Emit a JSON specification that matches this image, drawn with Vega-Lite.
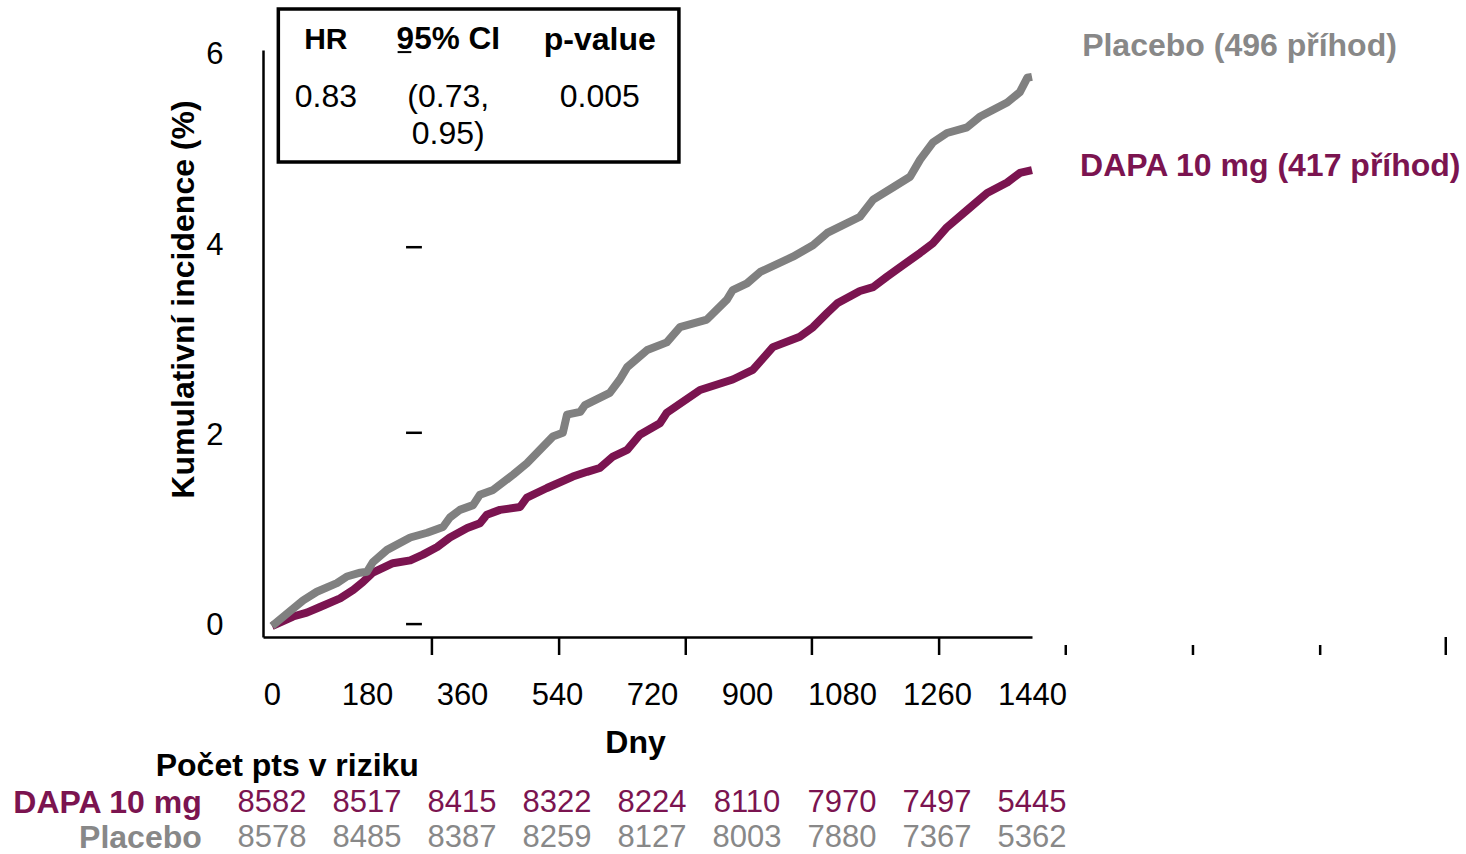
{
  "$schema": "https://vega.github.io/schema/vega-lite/v6.json",
  "width": 769,
  "height": 587,
  "autosize": {"type": "none"},
  "padding": {"left": 263, "top": 50, "right": 434, "bottom": 217},
  "background": "white",
  "config": {"view": {"stroke": null}, "font": "Liberation Sans", "axis": {"grid": false}},
  "datasets": {
    "curves": [
      {"arm": "Placebo", "day": 0, "pct": 0},
      {"arm": "Placebo", "day": 59, "pct": 0.27},
      {"arm": "Placebo", "day": 85, "pct": 0.36},
      {"arm": "Placebo", "day": 123, "pct": 0.45},
      {"arm": "Placebo", "day": 142, "pct": 0.52},
      {"arm": "Placebo", "day": 167, "pct": 0.56},
      {"arm": "Placebo", "day": 180, "pct": 0.57},
      {"arm": "Placebo", "day": 191, "pct": 0.67},
      {"arm": "Placebo", "day": 218, "pct": 0.8},
      {"arm": "Placebo", "day": 262, "pct": 0.93},
      {"arm": "Placebo", "day": 294, "pct": 0.98},
      {"arm": "Placebo", "day": 324, "pct": 1.04},
      {"arm": "Placebo", "day": 337, "pct": 1.14},
      {"arm": "Placebo", "day": 356, "pct": 1.22},
      {"arm": "Placebo", "day": 381, "pct": 1.27},
      {"arm": "Placebo", "day": 394, "pct": 1.38},
      {"arm": "Placebo", "day": 419, "pct": 1.43},
      {"arm": "Placebo", "day": 457, "pct": 1.59},
      {"arm": "Placebo", "day": 483, "pct": 1.71},
      {"arm": "Placebo", "day": 532, "pct": 1.99},
      {"arm": "Placebo", "day": 551, "pct": 2.03},
      {"arm": "Placebo", "day": 559, "pct": 2.22},
      {"arm": "Placebo", "day": 584, "pct": 2.25},
      {"arm": "Placebo", "day": 593, "pct": 2.32},
      {"arm": "Placebo", "day": 640, "pct": 2.45},
      {"arm": "Placebo", "day": 659, "pct": 2.59},
      {"arm": "Placebo", "day": 673, "pct": 2.72},
      {"arm": "Placebo", "day": 711, "pct": 2.9},
      {"arm": "Placebo", "day": 748, "pct": 2.98},
      {"arm": "Placebo", "day": 773, "pct": 3.14},
      {"arm": "Placebo", "day": 824, "pct": 3.22},
      {"arm": "Placebo", "day": 862, "pct": 3.43},
      {"arm": "Placebo", "day": 873, "pct": 3.53},
      {"arm": "Placebo", "day": 900, "pct": 3.6},
      {"arm": "Placebo", "day": 925, "pct": 3.72},
      {"arm": "Placebo", "day": 987, "pct": 3.88},
      {"arm": "Placebo", "day": 1025, "pct": 4.0},
      {"arm": "Placebo", "day": 1052, "pct": 4.13},
      {"arm": "Placebo", "day": 1114, "pct": 4.3},
      {"arm": "Placebo", "day": 1139, "pct": 4.48},
      {"arm": "Placebo", "day": 1177, "pct": 4.61},
      {"arm": "Placebo", "day": 1209, "pct": 4.72},
      {"arm": "Placebo", "day": 1228, "pct": 4.9},
      {"arm": "Placebo", "day": 1252, "pct": 5.08},
      {"arm": "Placebo", "day": 1279, "pct": 5.18},
      {"arm": "Placebo", "day": 1317, "pct": 5.24},
      {"arm": "Placebo", "day": 1341, "pct": 5.35},
      {"arm": "Placebo", "day": 1393, "pct": 5.5},
      {"arm": "Placebo", "day": 1417, "pct": 5.61},
      {"arm": "Placebo", "day": 1431, "pct": 5.76},
      {"arm": "Placebo", "day": 1440, "pct": 5.77},
      {"arm": "DAPA 10 mg", "day": 0, "pct": 0},
      {"arm": "DAPA 10 mg", "day": 40, "pct": 0.1},
      {"arm": "DAPA 10 mg", "day": 66, "pct": 0.14},
      {"arm": "DAPA 10 mg", "day": 91, "pct": 0.2},
      {"arm": "DAPA 10 mg", "day": 129, "pct": 0.29},
      {"arm": "DAPA 10 mg", "day": 154, "pct": 0.38},
      {"arm": "DAPA 10 mg", "day": 172, "pct": 0.46},
      {"arm": "DAPA 10 mg", "day": 191, "pct": 0.56},
      {"arm": "DAPA 10 mg", "day": 229, "pct": 0.66},
      {"arm": "DAPA 10 mg", "day": 262, "pct": 0.69},
      {"arm": "DAPA 10 mg", "day": 286, "pct": 0.75},
      {"arm": "DAPA 10 mg", "day": 313, "pct": 0.83},
      {"arm": "DAPA 10 mg", "day": 337, "pct": 0.93},
      {"arm": "DAPA 10 mg", "day": 370, "pct": 1.03},
      {"arm": "DAPA 10 mg", "day": 394, "pct": 1.08},
      {"arm": "DAPA 10 mg", "day": 407, "pct": 1.17},
      {"arm": "DAPA 10 mg", "day": 432, "pct": 1.22},
      {"arm": "DAPA 10 mg", "day": 470, "pct": 1.25},
      {"arm": "DAPA 10 mg", "day": 483, "pct": 1.35},
      {"arm": "DAPA 10 mg", "day": 521, "pct": 1.45},
      {"arm": "DAPA 10 mg", "day": 570, "pct": 1.57},
      {"arm": "DAPA 10 mg", "day": 597, "pct": 1.62},
      {"arm": "DAPA 10 mg", "day": 621, "pct": 1.66},
      {"arm": "DAPA 10 mg", "day": 646, "pct": 1.78},
      {"arm": "DAPA 10 mg", "day": 673, "pct": 1.85},
      {"arm": "DAPA 10 mg", "day": 697, "pct": 2.01},
      {"arm": "DAPA 10 mg", "day": 735, "pct": 2.13},
      {"arm": "DAPA 10 mg", "day": 748, "pct": 2.24},
      {"arm": "DAPA 10 mg", "day": 811, "pct": 2.48},
      {"arm": "DAPA 10 mg", "day": 873, "pct": 2.59},
      {"arm": "DAPA 10 mg", "day": 911, "pct": 2.69},
      {"arm": "DAPA 10 mg", "day": 949, "pct": 2.93},
      {"arm": "DAPA 10 mg", "day": 1000, "pct": 3.04},
      {"arm": "DAPA 10 mg", "day": 1025, "pct": 3.14},
      {"arm": "DAPA 10 mg", "day": 1052, "pct": 3.29},
      {"arm": "DAPA 10 mg", "day": 1071, "pct": 3.39},
      {"arm": "DAPA 10 mg", "day": 1114, "pct": 3.52},
      {"arm": "DAPA 10 mg", "day": 1139, "pct": 3.56},
      {"arm": "DAPA 10 mg", "day": 1165, "pct": 3.67},
      {"arm": "DAPA 10 mg", "day": 1190, "pct": 3.77},
      {"arm": "DAPA 10 mg", "day": 1228, "pct": 3.92},
      {"arm": "DAPA 10 mg", "day": 1252, "pct": 4.02},
      {"arm": "DAPA 10 mg", "day": 1279, "pct": 4.19},
      {"arm": "DAPA 10 mg", "day": 1317, "pct": 4.37},
      {"arm": "DAPA 10 mg", "day": 1355, "pct": 4.55},
      {"arm": "DAPA 10 mg", "day": 1393, "pct": 4.66},
      {"arm": "DAPA 10 mg", "day": 1417, "pct": 4.76},
      {"arm": "DAPA 10 mg", "day": 1440, "pct": 4.79}
    ],
    "risk": [
      {"arm": "DAPA 10 mg", "day": 0, "n": 8582},
      {"arm": "DAPA 10 mg", "day": 180, "n": 8517},
      {"arm": "DAPA 10 mg", "day": 360, "n": 8415},
      {"arm": "DAPA 10 mg", "day": 540, "n": 8322},
      {"arm": "DAPA 10 mg", "day": 720, "n": 8224},
      {"arm": "DAPA 10 mg", "day": 900, "n": 8110},
      {"arm": "DAPA 10 mg", "day": 1080, "n": 7970},
      {"arm": "DAPA 10 mg", "day": 1260, "n": 7497},
      {"arm": "DAPA 10 mg", "day": 1440, "n": 5445},
      {"arm": "Placebo", "day": 0, "n": 8578},
      {"arm": "Placebo", "day": 180, "n": 8485},
      {"arm": "Placebo", "day": 360, "n": 8387},
      {"arm": "Placebo", "day": 540, "n": 8259},
      {"arm": "Placebo", "day": 720, "n": 8127},
      {"arm": "Placebo", "day": 900, "n": 8003},
      {"arm": "Placebo", "day": 1080, "n": 7880},
      {"arm": "Placebo", "day": 1260, "n": 7367},
      {"arm": "Placebo", "day": 1440, "n": 5362}
    ],
    "xticksLong": [{"day": 303}, {"day": 544}, {"day": 784}, {"day": 1023}, {"day": 1264}, {"day": 2224}],
    "xticksShort": [{"day": 1504}, {"day": 1745}, {"day": 1986}],
    "yticks": [{"pct": 0.02}, {"pct": 2.03}, {"pct": 3.98}],
    "one": [{}]
  },
  "layer": [
    {
      "data": {"name": "curves"},
      "transform": [{"filter": "datum.arm === 'DAPA 10 mg'"}],
      "mark": {"type": "line", "color": "#7b1450", "strokeWidth": 8, "strokeJoin": "round"},
      "encoding": {
        "x": {"field": "day", "type": "quantitative", "scale": {"domain": [-17.05, 1440], "nice": false, "zero": false},
          "axis": {"values": [0, 180, 360, 540, 720, 900, 1080, 1260, 1440], "format": "d", "ticks": false, "domain": true, "domainColor": "black", "domainWidth": 2.5,
            "labelFontSize": 31, "labelColor": "black", "labelPadding": 43, "labelFlush": false, "labelOverlap": false,
            "title": "Dny", "titleFontSize": 32, "titleFontWeight": "bold", "titleColor": "black", "titleX": 372, "titleY": 105, "titleBaseline": "middle", "titleAlign": "center"}},
        "y": {"field": "pct", "type": "quantitative", "scale": {"domain": [-0.1156, 6.052], "nice": false, "zero": false},
          "axis": {"values": [0, 2, 4, 6], "format": "d", "ticks": false, "domain": true, "domainColor": "black", "domainWidth": 2.5,
            "labelFontSize": 31, "labelColor": "black", "labelPadding": 40, "labelFlush": false, "labelOverlap": false,
            "title": "Kumulativní incidence (%)", "titleFontSize": 32, "titleFontWeight": "bold", "titleColor": "black", "titleAngle": -90, "titleX": -80, "titleY": 249, "titleBaseline": "middle", "titleAlign": "center"}}
      }
    },
    {
      "data": {"name": "curves"},
      "transform": [{"filter": "datum.arm === 'Placebo'"}],
      "mark": {"type": "line", "color": "#808080", "strokeWidth": 8, "strokeJoin": "round"},
      "encoding": {
        "x": {"field": "day", "type": "quantitative"},
        "y": {"field": "pct", "type": "quantitative"}
      }
    },
    {
      "data": {"name": "xticksLong"},
      "mark": {"type": "rule", "color": "black", "strokeWidth": 2.5},
      "encoding": {
        "x": {"field": "day", "type": "quantitative"},
        "y": {"datum": -0.1156, "type": "quantitative"},
        "y2": {"datum": -0.3047}
      }
    },
    {
      "data": {"name": "xticksShort"},
      "mark": {"type": "rule", "color": "black", "strokeWidth": 2.5},
      "encoding": {
        "x": {"field": "day", "type": "quantitative"},
        "y": {"datum": -0.1996, "type": "quantitative"},
        "y2": {"datum": -0.3047}
      }
    },
    {
      "data": {"name": "yticks"},
      "mark": {"type": "rule", "color": "black", "strokeWidth": 2.5},
      "encoding": {
        "x": {"datum": 254, "type": "quantitative"},
        "x2": {"datum": 284},
        "y": {"field": "pct", "type": "quantitative"}
      }
    },
    {
      "data": {"name": "risk"},
      "transform": [{"filter": "datum.arm === 'DAPA 10 mg'"}],
      "mark": {"type": "text", "fontSize": 31, "color": "#7b1450", "align": "center", "baseline": "middle"},
      "encoding": {
        "x": {"field": "day", "type": "quantitative"},
        "y": {"datum": -1.86, "type": "quantitative"},
        "text": {"field": "n", "type": "nominal"}
      }
    },
    {
      "data": {"name": "risk"},
      "transform": [{"filter": "datum.arm === 'Placebo'"}],
      "mark": {"type": "text", "fontSize": 31, "color": "#888888", "align": "center", "baseline": "middle"},
      "encoding": {
        "x": {"field": "day", "type": "quantitative"},
        "y": {"datum": -2.228, "type": "quantitative"},
        "text": {"field": "n", "type": "nominal"}
      }
    },
    {
      "data": {"name": "one"},
      "mark": {"type": "text", "text": "DAPA 10 mg", "fontSize": 32, "fontWeight": "bold", "color": "#7b1450", "align": "right", "baseline": "middle"},
      "encoding": {"x": {"datum": -133, "type": "quantitative"}, "y": {"datum": -1.86, "type": "quantitative"}}
    },
    {
      "data": {"name": "one"},
      "mark": {"type": "text", "text": "Placebo", "fontSize": 32, "fontWeight": "bold", "color": "#888888", "align": "right", "baseline": "middle"},
      "encoding": {"x": {"datum": -133, "type": "quantitative"}, "y": {"datum": -2.228, "type": "quantitative"}}
    },
    {
      "data": {"name": "one"},
      "mark": {"type": "text", "text": "Počet pts v riziku", "fontSize": 32, "fontWeight": "bold", "color": "black", "align": "center", "baseline": "middle"},
      "encoding": {"x": {"datum": 29, "type": "quantitative"}, "y": {"datum": -1.471, "type": "quantitative"}}
    },
    {
      "data": {"name": "one"},
      "mark": {"type": "text", "text": "Placebo (496 příhod)", "fontSize": 32, "fontWeight": "bold", "color": "#888888", "align": "left", "baseline": "middle"},
      "encoding": {"x": {"datum": 1535, "type": "quantitative"}, "y": {"datum": 6.095, "type": "quantitative"}}
    },
    {
      "data": {"name": "one"},
      "mark": {"type": "text", "text": "DAPA 10 mg (417 příhod)", "fontSize": 32, "fontWeight": "bold", "color": "#7b1450", "align": "left", "baseline": "middle"},
      "encoding": {"x": {"datum": 1531, "type": "quantitative"}, "y": {"datum": 4.834, "type": "quantitative"}}
    },
    {
      "data": {"name": "one"},
      "mark": {"type": "rect", "fill": "white", "stroke": "black", "strokeWidth": 3.5},
      "encoding": {
        "x": {"datum": 12, "type": "quantitative"},
        "x2": {"datum": 771},
        "y": {"datum": 6.483, "type": "quantitative"},
        "y2": {"datum": 4.875}
      }
    },
    {
      "data": {"name": "one"},
      "mark": {"type": "text", "text": "HR", "fontSize": 30, "fontWeight": "bold", "color": "black", "align": "center", "baseline": "middle"},
      "encoding": {"x": {"datum": 102, "type": "quantitative"}, "y": {"datum": 6.157, "type": "quantitative"}}
    },
    {
      "data": {"name": "one"},
      "mark": {"type": "text", "text": "95% CI", "fontSize": 31.5, "fontWeight": "bold", "color": "black", "align": "center", "baseline": "middle"},
      "encoding": {"x": {"datum": 334, "type": "quantitative"}, "y": {"datum": 6.157, "type": "quantitative"}}
    },
    {
      "data": {"name": "one"},
      "mark": {"type": "rule", "color": "black", "strokeWidth": 2},
      "encoding": {"x": {"datum": 238, "type": "quantitative"}, "x2": {"datum": 264}, "y": {"datum": 6.03, "type": "quantitative"}}
    },
    {
      "data": {"name": "one"},
      "mark": {"type": "text", "text": "p-value", "fontSize": 32, "fontWeight": "bold", "color": "black", "align": "center", "baseline": "middle"},
      "encoding": {"x": {"datum": 621, "type": "quantitative"}, "y": {"datum": 6.157, "type": "quantitative"}}
    },
    {
      "data": {"name": "one"},
      "mark": {"type": "text", "text": "0.83", "fontSize": 32, "color": "black", "align": "center", "baseline": "middle"},
      "encoding": {"x": {"datum": 102, "type": "quantitative"}, "y": {"datum": 5.558, "type": "quantitative"}}
    },
    {
      "data": {"name": "one"},
      "mark": {"type": "text", "text": "(0.73,", "fontSize": 32, "color": "black", "align": "center", "baseline": "middle"},
      "encoding": {"x": {"datum": 334, "type": "quantitative"}, "y": {"datum": 5.558, "type": "quantitative"}}
    },
    {
      "data": {"name": "one"},
      "mark": {"type": "text", "text": "0.95)", "fontSize": 32, "color": "black", "align": "center", "baseline": "middle"},
      "encoding": {"x": {"datum": 334, "type": "quantitative"}, "y": {"datum": 5.17, "type": "quantitative"}}
    },
    {
      "data": {"name": "one"},
      "mark": {"type": "text", "text": "0.005", "fontSize": 32, "color": "black", "align": "center", "baseline": "middle"},
      "encoding": {"x": {"datum": 621, "type": "quantitative"}, "y": {"datum": 5.558, "type": "quantitative"}}
    }
  ]
}
